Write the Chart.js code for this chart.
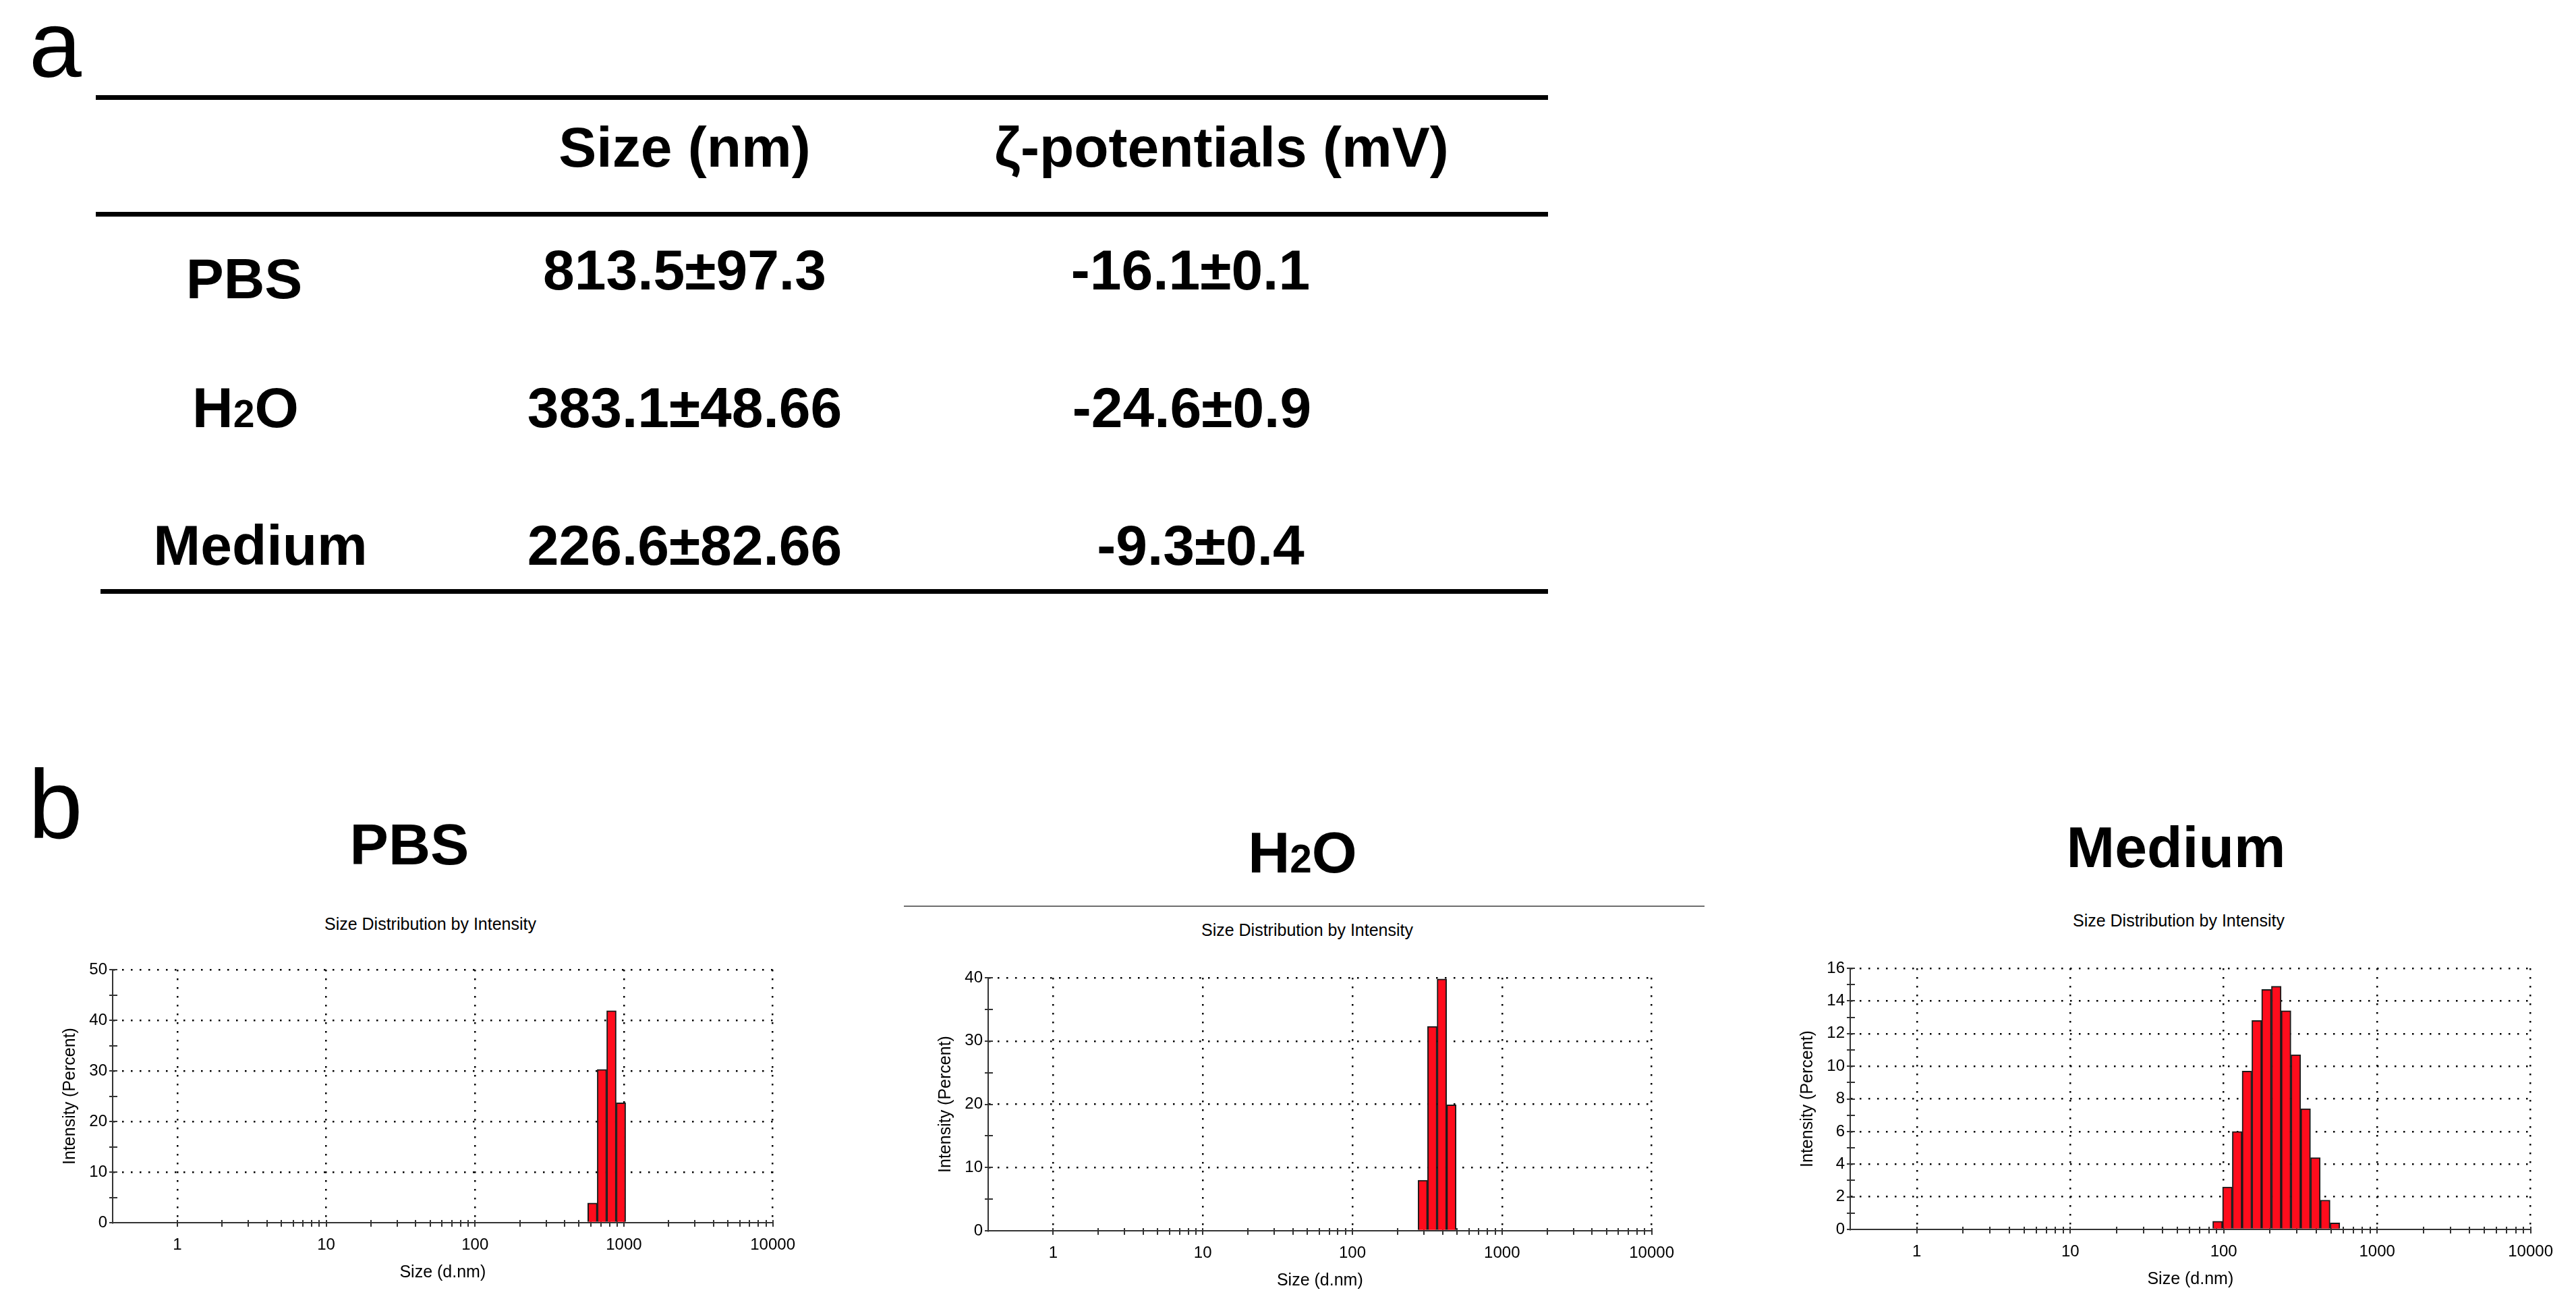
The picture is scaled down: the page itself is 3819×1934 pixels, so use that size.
<!DOCTYPE html>
<html lang="en">
<head>
<meta charset="UTF-8">
<title>Size and ζ-potential</title>
<script src="https://cdn.jsdelivr.net/npm/chart.js"></script>
<style>
  body { margin: 0; background: #fff; }
  #page {
    position: relative;
    width: 3819px;
    height: 1934px;
    overflow: hidden;
    font-family: 'Liberation Sans', Arial, sans-serif;
    color: #000;
  }
  .txt { position: absolute; white-space: nowrap; line-height: 1; }
  .rule { position: absolute; }
  canvas { position: absolute; }
</style>
</head>
<body>
<div id="page"></div>
<script>
// panel a: table
const groups = ['PBS', 'H2O', 'Medium'];
const sizeNm = ['813.5±97.3', '383.1±48.66', '226.6±82.66'];
const zetaMv = ['-16.1±0.1', '-24.6±0.9', '-9.3±0.4'];

// panel b: size bins (d.nm) and intensity (%)
const pbsSizes = [615.1, 712.4, 825.0, 955.4];
const pbsIntensity = [3.9, 30.3, 41.9, 23.7];
const waterSizes = [295.3, 342.0, 396.1, 458.7];
const waterIntensity = [8.0, 32.3, 39.8, 19.9];
const mediumSizes = [91.28, 105.7, 122.4, 141.8, 164.2, 190.1, 220.2, 255.0, 295.3, 342.0, 396.1, 458.7, 531.2];
const mediumIntensity = [0.5, 2.6, 6.0, 9.7, 12.8, 14.7, 14.9, 13.4, 10.7, 7.4, 4.4, 1.8, 0.4];
const sizeTicks = [1, 10, 100, 1000, 10000];

const barRed = '#ff0c1c';
const axisGrey = '#333';

Chart.defaults.font.family = "'Liberation Sans', Arial, sans-serif";
Chart.defaults.color = '#000';

const page = document.getElementById('page');

function chem(name) {
  return name.replace('2', '<span style="font-size:0.68em">2</span>');
}

// place text by its baseline; line-height 1 puts the baseline at ~0.8465em
function text(html, x, base, size, weight, center) {
  const el = document.createElement('div');
  el.className = 'txt';
  el.innerHTML = html;
  el.style.fontSize = size + 'px';
  el.style.fontWeight = weight;
  el.style.left = x + 'px';
  el.style.top = (base - 0.8465 * size) + 'px';
  if (center) el.style.transform = 'translateX(-50%)';
  page.appendChild(el);
}

function rule(x1, x2, y, h, color) {
  const el = document.createElement('div');
  el.className = 'rule';
  el.style.left = x1 + 'px';
  el.style.width = (x2 - x1) + 'px';
  el.style.top = y + 'px';
  el.style.height = h + 'px';
  el.style.background = color;
  page.appendChild(el);
}

// ---- panel a ----
text('a', 43, 114, 140, 400, false);
rule(142, 2295, 141, 7, '#000');
rule(142, 2295, 314, 7, '#000');
rule(149, 2295, 873, 7, '#000');
text('Size (nm)', 1015, 247, 84, 700, true);
text('ζ-potentials (mV)', 1811, 247, 84, 700, true);

const labelX = [362, 364, 386];
const labelBase = [442, 633, 837];
const valueBase = [429, 633, 837];
const zetaX = [1765, 1767, 1780];
groups.forEach((g, i) => {
  text(chem(g), labelX[i], labelBase[i], 84, 700, true);
  text(sizeNm[i], 1015, valueBase[i], 84, 700, true);
  text(zetaMv[i], zetaX[i], valueBase[i], 84, 700, true);
});

// ---- panel b ----
text('b', 42, 1243, 145, 400, false);
rule(1340, 2527, 1342, 2, '#6e6e6e');

// tick marks that cross the axes, drawn under the bars
const crossTicks = {
  id: 'crossTicks',
  beforeDatasetsDraw(chart) {
    const { ctx, chartArea: a, scales: { x, y } } = chart;
    ctx.save();
    ctx.strokeStyle = axisGrey;
    ctx.lineWidth = 2;
    ctx.beginPath();
    for (let d = 1; d <= 10000; d *= 10) {
      for (let m = 1; m <= 9; m++) {
        const v = d * m;
        if (v > 10000) break;
        const px = Math.round(x.getPixelForValue(v));
        ctx.moveTo(px, a.bottom - 4);
        ctx.lineTo(px, a.bottom + 6);
      }
    }
    y.ticks.forEach(t => {
      const py = Math.round(y.getPixelForValue(t.value));
      ctx.moveTo(a.left - 5, py);
      ctx.lineTo(a.left + 7, py);
    });
    ctx.stroke();
    ctx.restore();
  }
};

const panels = [
  { name: 'PBS', sizes: pbsSizes, values: pbsIntensity, yMax: 50, yStep: 5, yLabelStep: 10,
    area: [167, 1437, 1153, 1812], titleX: 607, titleBase: 1281, subX: 638, subBase: 1378 },
  { name: 'H2O', sizes: waterSizes, values: waterIntensity, yMax: 40, yStep: 5, yLabelStep: 10,
    area: [1465, 1449, 2456, 1824], titleX: 1931, titleBase: 1293, subX: 1938, subBase: 1387 },
  { name: 'Medium', sizes: mediumSizes, values: mediumIntensity, yMax: 16, yStep: 1, yLabelStep: 2,
    area: [2743, 1435, 3759, 1822], titleX: 3226, titleBase: 1285, subX: 3230, subBase: 1373 }
];

function makeChart(p) {
  const [l, t, r, b] = p.area;
  text(chem(p.name), p.titleX, p.titleBase, 86, 700, true);
  text('Size Distribution by Intensity', p.subX, p.subBase, 25, 400, true);

  const cv = document.createElement('canvas');
  const w = r - l + 155, h = b - t + 130;
  cv.width = w;
  cv.height = h;
  cv.style.left = (l - 110) + 'px';
  cv.style.top = (t - 30) + 'px';
  cv.style.width = w + 'px';
  cv.style.height = h + 'px';
  page.appendChild(cv);

  new Chart(cv, {
    type: 'bar',
    data: {
      datasets: [{
        data: p.sizes.map((s, i) => ({ x: s, y: p.values[i] })),
        backgroundColor: barRed,
        borderColor: '#1a1a1a',
        borderWidth: 2,
        categoryPercentage: 1,
        barPercentage: 1
      }]
    },
    options: {
      responsive: false,
      animation: false,
      devicePixelRatio: 1,
      layout: { padding: { top: 30, right: 45, left: 0, bottom: 0 } },
      plugins: { legend: { display: false }, tooltip: { enabled: false } },
      scales: {
        x: {
          type: 'logarithmic',
          min: 0.368,
          max: 10000,
          bounds: 'data',
          offset: false,
          afterBuildTicks: s => { s.ticks = sizeTicks.map(v => ({ value: v })); },
          afterFit: s => { s.height = 100; },
          ticks: { autoSkip: false, maxRotation: 0, padding: 19, font: { size: 24 }, color: '#000',
                   callback: v => String(v) },
          grid: { offset: false, drawTicks: false, color: '#000', lineWidth: 2.5 },
          border: { color: axisGrey, width: 2, dash: [2.5, 10.5] },
          title: { display: true, text: 'Size (d.nm)', font: { size: 25 }, color: '#000',
                   padding: { top: 0, bottom: 11 } }
        },
        y: {
          min: 0,
          max: p.yMax,
          afterFit: s => { s.width = 110; },
          ticks: { stepSize: p.yStep, autoSkip: false, padding: 8, font: { size: 24 }, color: '#000',
                   callback: v => (v % p.yLabelStep === 0 ? v : '') },
          grid: { drawTicks: false, lineWidth: 2.5,
                  color: c => (c.tick && c.tick.value > 0 && c.tick.value % p.yLabelStep === 0) ? '#000' : 'transparent' },
          border: { color: axisGrey, width: 2, dash: [2.5, 10.5] },
          title: { display: true, text: 'Intensity (Percent)', font: { size: 25 }, color: '#000',
                   padding: { top: 32, bottom: 0 } }
        }
      }
    },
    plugins: [crossTicks]
  });
}

panels.forEach(makeChart);
</script>
</body>
</html>
